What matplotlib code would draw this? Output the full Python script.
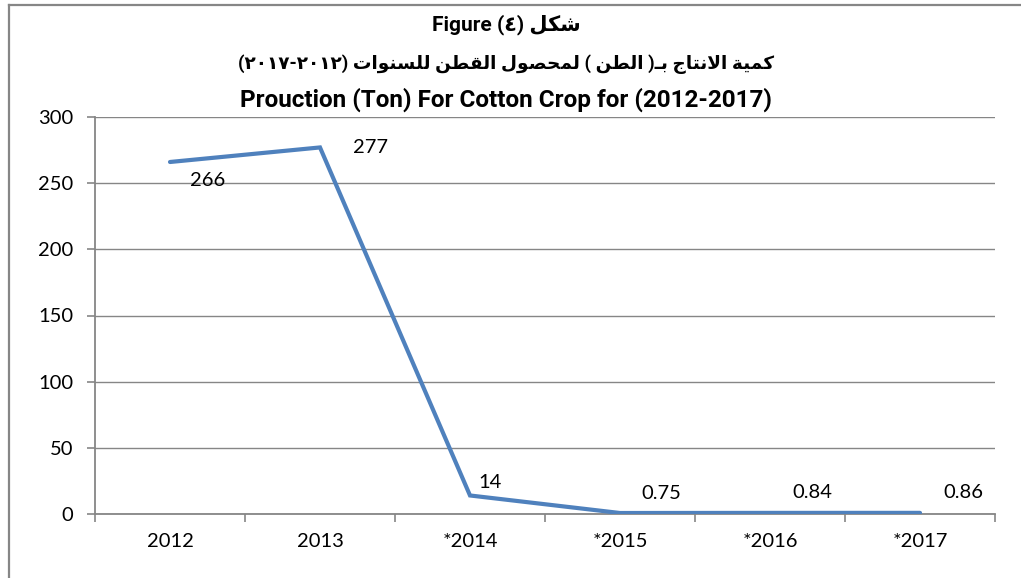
import matplotlib
matplotlib.use("Agg")
import matplotlib.pyplot as plt
from matplotlib.lines import Line2D

# ---- data ----
years = ["2012", "2013", "*2014", "*2015", "*2016", "*2017"]
production = [266, 277, 14, 0.75, 0.84, 0.86]
value_labels = ["266", "277", "14", "0.75", "0.84", "0.86"]
y_ticks = [0, 50, 100, 150, 200, 250, 300]

# ---- minimal Arabic shaping (presentation forms, visual order) ----
FORMS = {
    'ا': ('\uFE8D', '\uFE8E', None, None),
    'ب': ('\uFE8F', '\uFE90', '\uFE91', '\uFE92'),
    'ة': ('\uFE93', '\uFE94', None, None),
    'ت': ('\uFE95', '\uFE96', '\uFE97', '\uFE98'),
    'ج': ('\uFE9D', '\uFE9E', '\uFE9F', '\uFEA0'),
    'ح': ('\uFEA1', '\uFEA2', '\uFEA3', '\uFEA4'),
    'س': ('\uFEB1', '\uFEB2', '\uFEB3', '\uFEB4'),
    'ش': ('\uFEB5', '\uFEB6', '\uFEB7', '\uFEB8'),
    'ص': ('\uFEB9', '\uFEBA', '\uFEBB', '\uFEBC'),
    'ط': ('\uFEC1', '\uFEC2', '\uFEC3', '\uFEC4'),
    'ق': ('\uFED5', '\uFED6', '\uFED7', '\uFED8'),
    'ك': ('\uFED9', '\uFEDA', '\uFEDB', '\uFEDC'),
    'ل': ('\uFEDD', '\uFEDE', '\uFEDF', '\uFEE0'),
    'م': ('\uFEE1', '\uFEE2', '\uFEE3', '\uFEE4'),
    'ن': ('\uFEE5', '\uFEE6', '\uFEE7', '\uFEE8'),
    'و': ('\uFEED', '\uFEEE', None, None),
    'ي': ('\uFEF1', '\uFEF2', '\uFEF3', '\uFEF4'),
}
TATWEEL = '\u0640'


def shape_ar(word):
    chars = []
    i = 0
    while i < len(word):
        if word[i] == 'ل' and i + 1 < len(word) and word[i + 1] == 'ا':
            chars.append('LA')
            i += 2
        else:
            chars.append(word[i])
            i += 1

    def dual(c):
        return c == TATWEEL or (c in FORMS and FORMS[c][2] is not None)

    def joins(c):
        return c == TATWEEL or c == 'LA' or c in FORMS

    out = []
    for k, c in enumerate(chars):
        prev = chars[k - 1] if k > 0 else None
        nxt = chars[k + 1] if k + 1 < len(chars) else None
        jp = prev is not None and dual(prev) and joins(c)
        if c == 'LA':
            out.append('\uFEFC' if jp else '\uFEFB')
            continue
        if c == TATWEEL or c not in FORMS:
            out.append(c)
            continue
        jn = dual(c) and nxt is not None and joins(nxt)
        iso, fin, ini, med = FORMS[c]
        if jp and jn:
            out.append(med)
        elif jp:
            out.append(fin)
        elif jn:
            out.append(ini)
        else:
            out.append(iso)
    return ''.join(reversed(out))


title1 = "Figure (٤) " + shape_ar("شكل")
title2 = ("(٢٠١٧-٢٠١٢) " + shape_ar("للسنوات") + " " + shape_ar("القطن") + " "
          + shape_ar("لمحصول") + " ( " + shape_ar("الطن") + " )" + shape_ar("بـ")
          + " " + shape_ar("الانتاج") + " " + shape_ar("كمية"))
title3 = "Prouction (Ton) For Cotton Crop for (2012-2017)"

# ---- figure ----
W, H = 1021, 578
fig = plt.figure(figsize=(W / 100, H / 100), dpi=100)
fam = ['Lato', 'DejaVu Sans']
tfam = ['Roboto', 'DejaVu Sans']

ax = fig.add_axes([95 / W, 1 - 514 / H, 900 / W, 397 / H])
grey = '#868686'
x = list(range(len(years)))
ax.plot(x, production, color='#4F81BD', lw=3.0, solid_capstyle='round',
        solid_joinstyle='miter', zorder=3)

ax.set_xlim(-0.5, len(years) - 0.5)
ax.set_ylim(0, 300)
ax.set_yticks(y_ticks)
ax.set_yticklabels([str(t) for t in y_ticks], family=fam, fontsize=14.5)
ax.set_xticks(x)
ax.set_xticklabels(years, family=fam, fontsize=14.5)
ax.set_xticks([i - 0.5 for i in range(len(years) + 1)], minor=True)
ax.tick_params(axis='x', which='major', length=0, pad=14)
ax.tick_params(axis='x', which='minor', length=5.5, color=grey, width=1.2)
ax.tick_params(axis='y', length=5.5, color=grey, width=1.2, pad=10)
ax.yaxis.grid(True, color=grey, lw=1.0)
ax.set_axisbelow(True)
for s in ['top', 'right']:
    ax.spines[s].set_visible(False)
for s in ['left', 'bottom']:
    ax.spines[s].set_color(grey)
    ax.spines[s].set_linewidth(1.3)

offsets_px = [(38, -19), (50, 0), (20, 13), (41, 20), (42, 20), (43, 20)]
for xi, v, lab, (dx, dy) in zip(x, production, value_labels, offsets_px):
    ax.annotate(lab, xy=(xi, v), xytext=(dx * 0.72, dy * 0.72),
                textcoords='offset points', ha='center', va='center',
                family=fam, fontsize=14.5, zorder=4)

cx = 506 / W
fig.text(cx, 1 - 25 / H, title1, ha='center', va='center', family=tfam,
         fontsize=15, fontweight='bold')
fig.text(cx, 1 - 64 / H, title2, ha='center', va='center', family=tfam,
         fontsize=13.3, fontweight='bold')
fig.text(cx, 1 - 100 / H, title3, ha='center', va='center', family=tfam,
         fontsize=17.5, fontweight='bold')

# chart area border (left and top edges visible)
fig.add_artist(Line2D([9 / W, 9 / W], [0, 1 - 5 / H], transform=fig.transFigure,
                      color=grey, lw=1.6))
fig.add_artist(Line2D([9 / W, 1], [1 - 5 / H, 1 - 5 / H], transform=fig.transFigure,
                      color=grey, lw=1.6))

fig.savefig("out.png", dpi=100)
